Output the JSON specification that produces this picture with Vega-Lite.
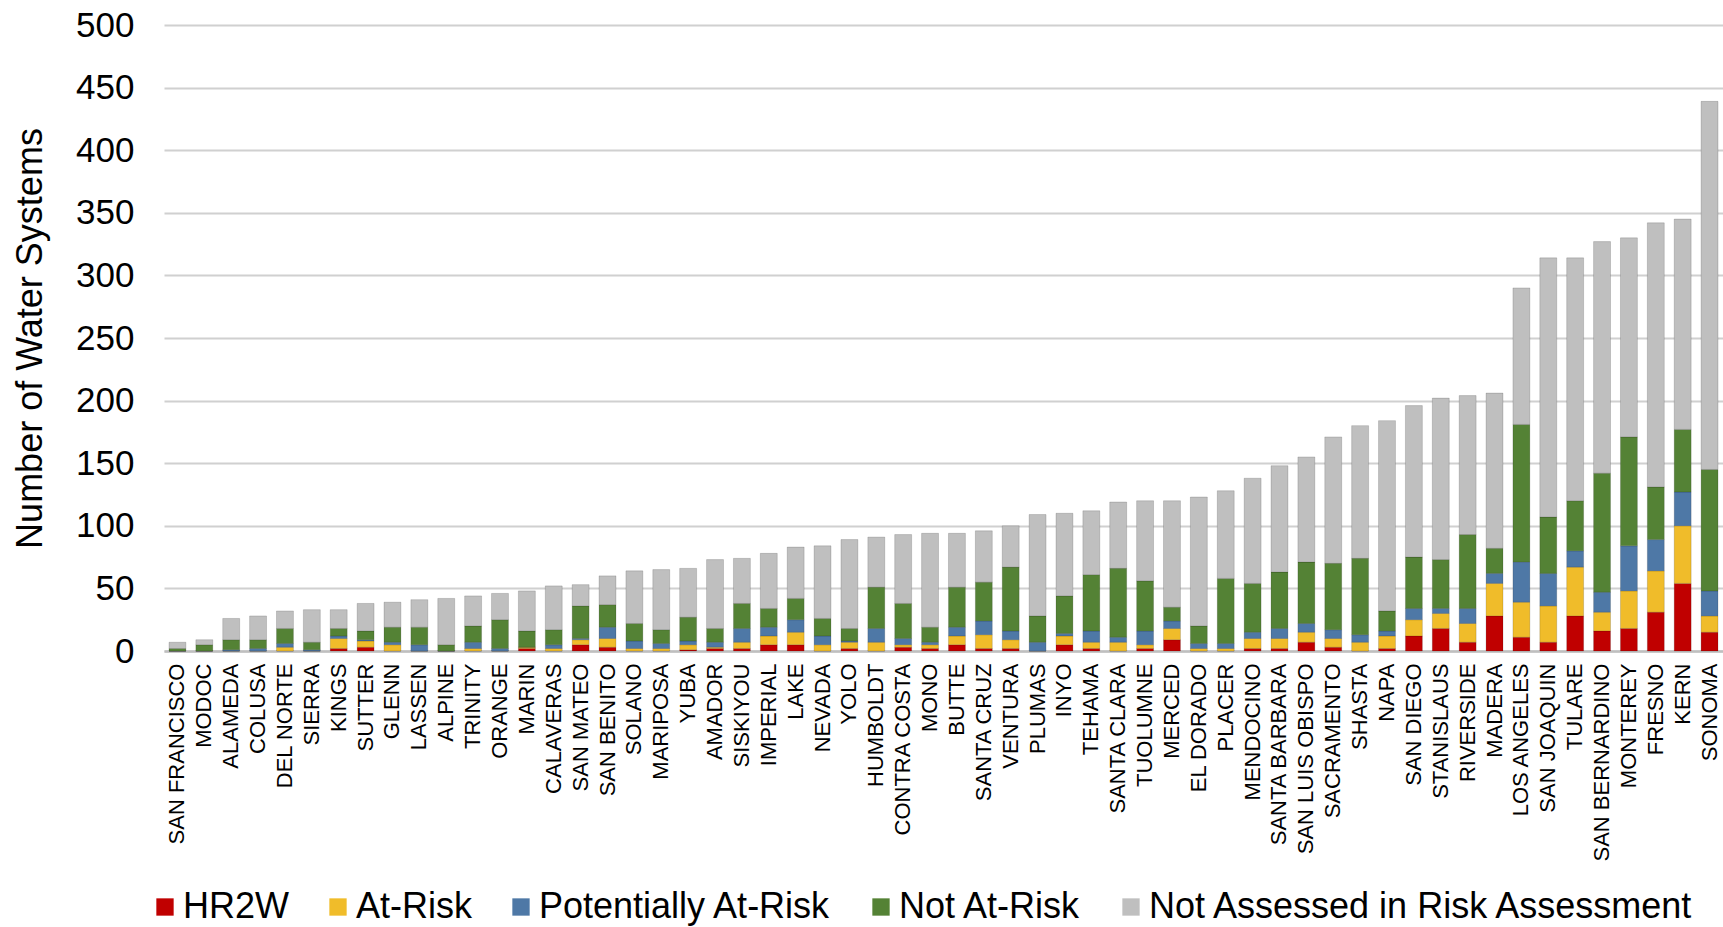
{
  "$schema": "https://vega.github.io/schema/vega-lite/v6.json",
  "autosize": {"type": "none"},
  "width": 1559,
  "height": 626,
  "padding": {"left": 164, "top": 25, "right": 0, "bottom": 276},
  "background": "white",
  "config": {
    "font": "Liberation Sans",
    "view": {"stroke": null}
  },
  "datasets": {
    "categories": [
      {"key": "hr2w", "label": "HR2W", "rank": 1},
      {"key": "atRisk", "label": "At-Risk", "rank": 2},
      {"key": "potential", "label": "Potentially At-Risk", "rank": 3},
      {"key": "notAtRisk", "label": "Not At-Risk", "rank": 4},
      {"key": "notAssessed", "label": "Not Assessed in Risk Assessment", "rank": 5}
    ]
  },
  "data": {
    "values": [
      {"county": "SAN FRANCISCO", "hr2w": 0, "atRisk": 0, "potential": 0, "notAtRisk": 2, "notAssessed": 5},
      {"county": "MODOC", "hr2w": 0, "atRisk": 0, "potential": 0, "notAtRisk": 5, "notAssessed": 4},
      {"county": "ALAMEDA", "hr2w": 0, "atRisk": 0, "potential": 1, "notAtRisk": 8, "notAssessed": 17},
      {"county": "COLUSA", "hr2w": 0, "atRisk": 0, "potential": 2, "notAtRisk": 7, "notAssessed": 19},
      {"county": "DEL NORTE", "hr2w": 0, "atRisk": 3, "potential": 3, "notAtRisk": 12, "notAssessed": 14},
      {"county": "SIERRA", "hr2w": 0, "atRisk": 0, "potential": 1, "notAtRisk": 6, "notAssessed": 26},
      {"county": "KINGS", "hr2w": 2, "atRisk": 8, "potential": 2, "notAtRisk": 6, "notAssessed": 15},
      {"county": "SUTTER", "hr2w": 3, "atRisk": 5, "potential": 1, "notAtRisk": 7, "notAssessed": 22},
      {"county": "GLENN", "hr2w": 0, "atRisk": 5, "potential": 2, "notAtRisk": 12, "notAssessed": 20},
      {"county": "LASSEN", "hr2w": 0, "atRisk": 0, "potential": 5, "notAtRisk": 14, "notAssessed": 22},
      {"county": "ALPINE", "hr2w": 0, "atRisk": 0, "potential": 0, "notAtRisk": 5, "notAssessed": 37},
      {"county": "TRINITY", "hr2w": 0, "atRisk": 2, "potential": 5, "notAtRisk": 13, "notAssessed": 24},
      {"county": "ORANGE", "hr2w": 0, "atRisk": 0, "potential": 2, "notAtRisk": 23, "notAssessed": 21},
      {"county": "MARIN", "hr2w": 2, "atRisk": 1, "potential": 0, "notAtRisk": 13, "notAssessed": 32},
      {"county": "CALAVERAS", "hr2w": 0, "atRisk": 2, "potential": 3, "notAtRisk": 12, "notAssessed": 35},
      {"county": "SAN MATEO", "hr2w": 5, "atRisk": 4, "potential": 1, "notAtRisk": 26, "notAssessed": 17},
      {"county": "SAN BENITO", "hr2w": 3, "atRisk": 7, "potential": 9, "notAtRisk": 18, "notAssessed": 23},
      {"county": "SOLANO", "hr2w": 0, "atRisk": 2, "potential": 6, "notAtRisk": 14, "notAssessed": 42},
      {"county": "MARIPOSA", "hr2w": 0, "atRisk": 2, "potential": 4, "notAtRisk": 11, "notAssessed": 48},
      {"county": "YUBA", "hr2w": 1, "atRisk": 4, "potential": 3, "notAtRisk": 19, "notAssessed": 39},
      {"county": "AMADOR", "hr2w": 2, "atRisk": 1, "potential": 4, "notAtRisk": 11, "notAssessed": 55},
      {"county": "SISKIYOU", "hr2w": 2, "atRisk": 5, "potential": 11, "notAtRisk": 20, "notAssessed": 36},
      {"county": "IMPERIAL", "hr2w": 5, "atRisk": 7, "potential": 7, "notAtRisk": 15, "notAssessed": 44},
      {"county": "LAKE", "hr2w": 5, "atRisk": 10, "potential": 10, "notAtRisk": 17, "notAssessed": 41},
      {"county": "NEVADA", "hr2w": 0, "atRisk": 5, "potential": 7, "notAtRisk": 14, "notAssessed": 58},
      {"county": "YOLO", "hr2w": 2, "atRisk": 5, "potential": 1, "notAtRisk": 10, "notAssessed": 71},
      {"county": "HUMBOLDT", "hr2w": 0, "atRisk": 7, "potential": 11, "notAtRisk": 33, "notAssessed": 40},
      {"county": "CONTRA COSTA", "hr2w": 3, "atRisk": 2, "potential": 5, "notAtRisk": 28, "notAssessed": 55},
      {"county": "MONO", "hr2w": 2, "atRisk": 3, "potential": 2, "notAtRisk": 12, "notAssessed": 75},
      {"county": "BUTTE", "hr2w": 5, "atRisk": 7, "potential": 7, "notAtRisk": 32, "notAssessed": 43},
      {"county": "SANTA CRUZ", "hr2w": 2, "atRisk": 11, "potential": 11, "notAtRisk": 31, "notAssessed": 41},
      {"county": "VENTURA", "hr2w": 2, "atRisk": 7, "potential": 7, "notAtRisk": 51, "notAssessed": 33},
      {"county": "PLUMAS", "hr2w": 0, "atRisk": 0, "potential": 7, "notAtRisk": 21, "notAssessed": 81},
      {"county": "INYO", "hr2w": 5, "atRisk": 7, "potential": 2, "notAtRisk": 30, "notAssessed": 66},
      {"county": "TEHAMA", "hr2w": 2, "atRisk": 5, "potential": 9, "notAtRisk": 45, "notAssessed": 51},
      {"county": "SANTA CLARA", "hr2w": 0, "atRisk": 7, "potential": 4, "notAtRisk": 55, "notAssessed": 53},
      {"county": "TUOLUMNE", "hr2w": 2, "atRisk": 3, "potential": 11, "notAtRisk": 40, "notAssessed": 64},
      {"county": "MERCED", "hr2w": 9, "atRisk": 9, "potential": 6, "notAtRisk": 11, "notAssessed": 85},
      {"county": "EL DORADO", "hr2w": 0, "atRisk": 2, "potential": 4, "notAtRisk": 14, "notAssessed": 103},
      {"county": "PLACER", "hr2w": 0, "atRisk": 2, "potential": 4, "notAtRisk": 52, "notAssessed": 70},
      {"county": "MENDOCINO", "hr2w": 2, "atRisk": 8, "potential": 5, "notAtRisk": 39, "notAssessed": 84},
      {"county": "SANTA BARBARA", "hr2w": 2, "atRisk": 8, "potential": 8, "notAtRisk": 45, "notAssessed": 85},
      {"county": "SAN LUIS OBISPO", "hr2w": 7, "atRisk": 8, "potential": 7, "notAtRisk": 49, "notAssessed": 84},
      {"county": "SACRAMENTO", "hr2w": 3, "atRisk": 7, "potential": 7, "notAtRisk": 53, "notAssessed": 101},
      {"county": "SHASTA", "hr2w": 0, "atRisk": 7, "potential": 6, "notAtRisk": 61, "notAssessed": 106},
      {"county": "NAPA", "hr2w": 2, "atRisk": 10, "potential": 4, "notAtRisk": 16, "notAssessed": 152},
      {"county": "SAN DIEGO", "hr2w": 12, "atRisk": 13, "potential": 9, "notAtRisk": 41, "notAssessed": 121},
      {"county": "STANISLAUS", "hr2w": 18, "atRisk": 12, "potential": 4, "notAtRisk": 39, "notAssessed": 129},
      {"county": "RIVERSIDE", "hr2w": 7, "atRisk": 15, "potential": 12, "notAtRisk": 59, "notAssessed": 111},
      {"county": "MADERA", "hr2w": 28, "atRisk": 26, "potential": 8, "notAtRisk": 20, "notAssessed": 124},
      {"county": "LOS ANGELES", "hr2w": 11, "atRisk": 28, "potential": 32, "notAtRisk": 110, "notAssessed": 109},
      {"county": "SAN JOAQUIN", "hr2w": 7, "atRisk": 29, "potential": 26, "notAtRisk": 45, "notAssessed": 207},
      {"county": "TULARE", "hr2w": 28, "atRisk": 39, "potential": 13, "notAtRisk": 40, "notAssessed": 194},
      {"county": "SAN BERNARDINO", "hr2w": 16, "atRisk": 15, "potential": 16, "notAtRisk": 95, "notAssessed": 185},
      {"county": "MONTEREY", "hr2w": 18, "atRisk": 30, "potential": 36, "notAtRisk": 87, "notAssessed": 159},
      {"county": "FRESNO", "hr2w": 31, "atRisk": 33, "potential": 25, "notAtRisk": 42, "notAssessed": 211},
      {"county": "KERN", "hr2w": 54, "atRisk": 46, "potential": 27, "notAtRisk": 50, "notAssessed": 168},
      {"county": "SONOMA", "hr2w": 15, "atRisk": 13, "potential": 20, "notAtRisk": 97, "notAssessed": 294}
    ]
  },
  "transform": [
    {"fold": ["hr2w", "atRisk", "potential", "notAtRisk", "notAssessed"], "as": ["key", "count"]},
    {"lookup": "key", "from": {"data": {"name": "categories"}, "key": "key", "fields": ["label", "rank"]}}
  ],
  "mark": {"type": "bar", "stroke": "#000000", "strokeOpacity": 0.15, "strokeWidth": 1},
  "encoding": {
    "x": {
      "field": "county",
      "type": "nominal",
      "sort": null,
      "scale": {"paddingInner": 0.37, "paddingOuter": 0.185},
      "axis": {
        "title": null,
        "labelAngle": -90,
        "labelAlign": "right",
        "labelBaseline": "middle",
        "labelFontSize": 22,
        "labelColor": "#000000",
        "labelPadding": 12,
        "labelLimit": 400,
        "ticks": false,
        "domainColor": "#BFBFBF",
        "domainWidth": 2.5
      }
    },
    "y": {
      "field": "count",
      "type": "quantitative",
      "stack": "zero",
      "scale": {"domain": [0, 500], "nice": false},
      "axis": {
        "title": "Number of Water Systems",
        "titleFontSize": 36,
        "titleFontWeight": "normal",
        "titleColor": "#000000",
        "titlePadding": 26,
        "values": [0, 50, 100, 150, 200, 250, 300, 350, 400, 450, 500],
        "labelFontSize": 35,
        "labelColor": "#000000",
        "labelPadding": 30,
        "ticks": false,
        "domain": false,
        "gridColor": "#D0D0D0",
        "gridWidth": 2
      }
    },
    "color": {
      "field": "label",
      "type": "nominal",
      "scale": {
        "domain": ["HR2W", "At-Risk", "Potentially At-Risk", "Not At-Risk", "Not Assessed in Risk Assessment"],
        "range": ["#C00000", "#F0BC2A", "#4E78A6", "#548235", "#BFBFBF"]
      },
      "legend": {
        "title": null,
        "orient": "none",
        "direction": "horizontal",
        "legendX": -17,
        "legendY": 864,
        "padding": 0,
        "symbolType": "square",
        "symbolSize": 300,
        "symbolStrokeWidth": 0,
        "labelFontSize": 36,
        "labelColor": "#000000",
        "labelOffset": 0,
        "labelLimit": 700,
        "columnPadding": 31
      }
    },
    "order": {"field": "rank", "type": "quantitative", "sort": "ascending"}
  }
}
